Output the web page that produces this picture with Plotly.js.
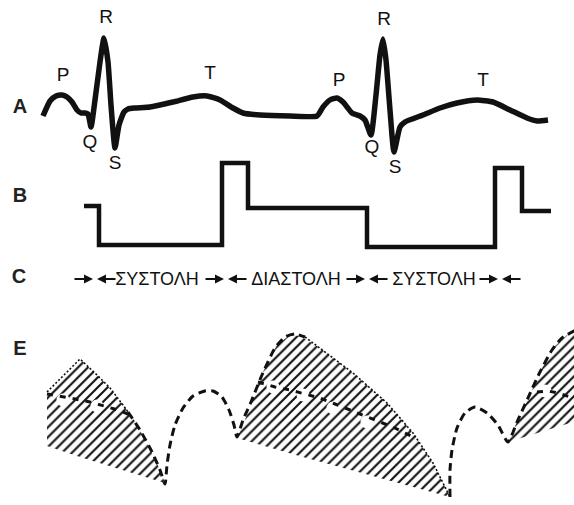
<!DOCTYPE html>
<html><head><meta charset="utf-8">
<script src="https://cdn.plot.ly/plotly-3.0.1.min.js"></script>
<style>html,body{margin:0;padding:0;background:#fff}</style>
</head><body><div id="chart" style="width:574px;height:505px"></div>
<script>
// ECG trace (A)
const ecgX = [43,50,56,62,67,72,77,81,85,88,91,95,100,104,108,111,115,119,124,128,135,150,173,193,207,220,233,243,260,290,317,323,330,337,343,352,360,365,371,376,380,383,386,390,394,400,405,423,440,457,477,493,510,527,537,548];
const ecgY = [116,101,96,95,97,102,110,113,113,114,127,100,62,38,62,105,148,125,112,109,108,107,102,97,96,100,108,113,115,116,116,107,100,98,102,113,116,120,135,95,55,39,60,110,152,127,122,115,108,103,100,102,110,118,121,120];
// Step trace (B)
const bX = [84,99,222,248,367,495,522,551];
const bY = [206,245,163,208,247,168,211,211];
// Phase labels (C)
const phaseText = ["ΣΥΣΤΟΛΗ","ΔΙΑΣΤΟΛΗ","ΣΥΣΤΟΛΗ"];
const phaseX = [157,296,434];
const phaseY = 280;
const arrowMeet = [95,226,367,500];
// Wave letters
const waveText = ["P","Q","R","S","T","P","Q","R","S","T"];
const waveX = [63,90,106,115,210,339,372,384,395,483];
const waveY = [76,143,18,164,74,81,148,20,168,81];
// Panel letters
const panelText = ["A","B","C","E"];
const panelX = [20,20,19,20];
const panelY = [108,197,278,350];
// Hatched regions (E)
const poly1X = [47,80,97,110,123,133,147,157,165,113,80,47,47];
const poly1Y = [392,359,375,388,405,418,443,463,483,467,457,446,392];
const poly2X = [237,245,252,263,277,290,300,320,353,387,413,433,450,303,237];
const poly2Y = [438,420,400,372,345,335,336,348,373,403,433,463,497,457,438];
const poly3X = [508,517,530,540,553,567,580,580,508];
const poly3Y = [442,422,395,372,348,335,329,420,442];
// Pressure curve (dashed)
const presX = [128,140,152,160,165,167,170,175,183,193,205,213,222,229,234,237,243,251,262,275,285,295,305,null,450,450,452,457,465,475,487,498,508,517,528,540,552,562,576];
const presY = [412,430,452,470,484,465,445,425,408,396,391,391,397,410,425,437,420,402,375,348,337,334,337,null,497,470,450,428,413,407,413,425,442,422,398,372,350,338,330];
// Hatched edges (thin)
const edgeX = [47,80,97,110,123,128,null,305,320,353,387,413,433,450];
const edgeY = [392,359,375,388,405,412,null,337,348,373,403,433,463,497];
// Inner line with gaps
const innerX = [47,60,75,90,105,118,130,null,258,275,290,305,320,335,350,367,380,395,413,null,537,548,558,570];
const innerY = [394,396,399,402,406,410,415,null,382,387,390,394,398,404,410,417,422,428,437,null,392,391,393,397];
const blobX = [63,97,273,303,333,367,545];
const blobY = [400,406,387,395,408,422,391];

const hatch = {shape:'/', size:7, solidity:0.3, fgcolor:'#111', bgcolor:'#fff', fillmode:'replace'};
function poly(x,y){return {x:x,y:y,mode:'lines',fill:'toself',fillcolor:'#fff',fillpattern:hatch,line:{width:0,color:'rgba(0,0,0,0)'},hoverinfo:'skip'};}

const traces = [
  poly(poly1X,poly1Y), poly(poly2X,poly2Y), poly(poly3X,poly3Y),
  {x:blobX,y:blobY,mode:'markers',marker:{size:13,color:'#fff',line:{width:0}},hoverinfo:'skip'},
  {x:innerX,y:innerY,mode:'lines',line:{color:'#111',width:3,dash:'6px,7px'},connectgaps:false},
  {x:edgeX,y:edgeY,mode:'lines',line:{color:'#111',width:1.6,dash:'2px,2px'},connectgaps:false},
  {x:presX,y:presY,mode:'lines',line:{color:'#111',width:3,dash:'8px,5px',shape:'spline',smoothing:0.6},connectgaps:false},
  {x:ecgX,y:ecgY,mode:'lines',line:{color:'#111',width:5.5,shape:'spline',smoothing:0.5}},
  {x:bX,y:bY,mode:'lines',line:{color:'#111',width:4.5,shape:'hv'}},
  {x:waveX,y:waveY,mode:'text',text:waveText,textposition:'middle center',textfont:{family:'Liberation Sans, Arial, sans-serif',size:19,color:'#111'}},
  {x:panelX,y:panelY,mode:'text',text:panelText,textposition:'middle center',textfont:{family:'Liberation Sans, Arial, sans-serif',size:20,color:'#222',weight:'bold'}},
  {x:phaseX,y:phaseX.map(()=>phaseY),mode:'text',text:phaseText,textposition:'middle center',textfont:{family:'Liberation Sans, Arial, sans-serif',size:18,color:'#111'}}
];

const annotations = [];
arrowMeet.forEach(m=>{
  annotations.push({x:m-2,y:279,ax:m-22,ay:279,xref:'x',yref:'y',axref:'x',ayref:'y',text:'',showarrow:true,arrowhead:2,arrowsize:1,arrowwidth:1.8,arrowcolor:'#111'});
  annotations.push({x:m+2,y:279,ax:m+22,ay:279,xref:'x',yref:'y',axref:'x',ayref:'y',text:'',showarrow:true,arrowhead:2,arrowsize:1,arrowwidth:1.8,arrowcolor:'#111'});
});

const layout = {
  width:574,height:505,margin:{l:0,r:0,t:0,b:0},
  paper_bgcolor:'#fff',plot_bgcolor:'#fff',showlegend:false,
  xaxis:{range:[0,574],visible:false,fixedrange:true},
  yaxis:{range:[505,0],visible:false,fixedrange:true},
  annotations:annotations
};
Plotly.newPlot('chart',traces,layout,{staticPlot:true,displayModeBar:false});
</script></body></html>
